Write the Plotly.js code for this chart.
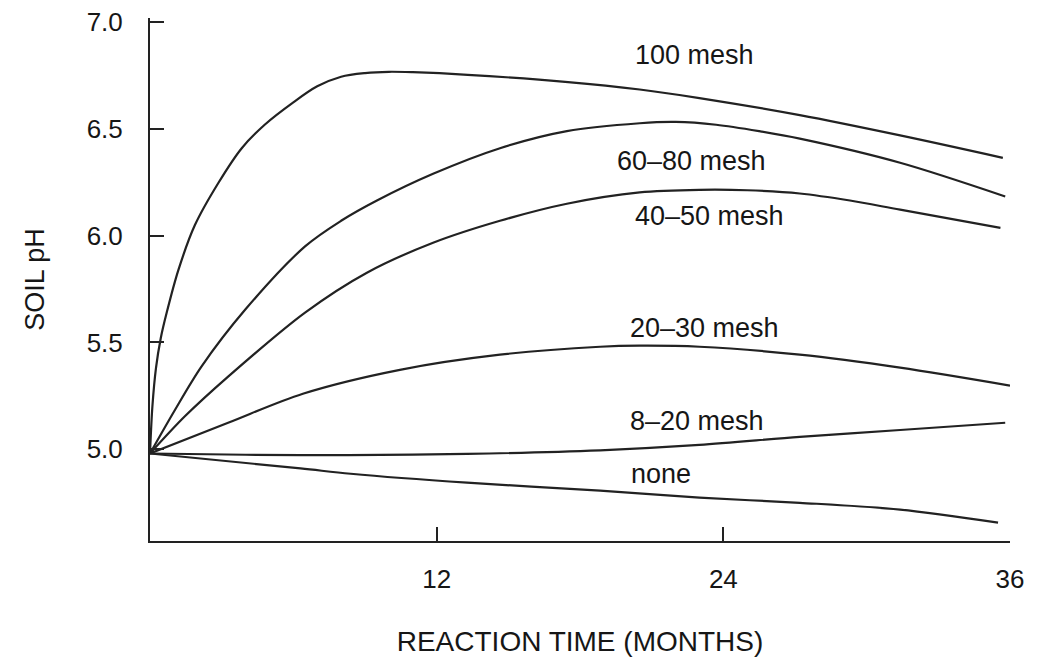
<!DOCTYPE html>
<html>
<head>
<meta charset="utf-8">
<script src="https://cdn.plot.ly/plotly-3.0.1.min.js"></script>
<style>html,body{margin:0;padding:0;background:#fff;}#chart{width:1040px;height:662px;}</style>
</head>
<body>
<div id="chart"></div>
<script>
// Series: reaction time (months) and soil pH
const mesh100_x = [0, 0.1, 0.25, 0.45, 0.7, 1.19, 1.88, 2.86, 3.84, 4.8, 6.0, 7.0, 8.0, 9.0, 10.0, 11.0, 13.3, 17.5, 20.5, 23.0, 27.2, 31.4, 35.7];
const mesh100_y = [4.98, 5.2, 5.38, 5.52, 5.64, 5.84, 6.05, 6.247, 6.41, 6.52, 6.625, 6.70, 6.745, 6.762, 6.768, 6.766, 6.754, 6.72, 6.685, 6.645, 6.565, 6.47, 6.365];

const mesh6080_x = [0, 1.05, 2.16, 3.98, 6.49, 8.0, 9.5, 11.85, 14.65, 17.45, 20.5, 22.0, 23.7, 25.5, 27.2, 31.4, 35.8];
const mesh6080_y = [4.98, 5.185, 5.388, 5.653, 5.95, 6.07, 6.165, 6.29, 6.41, 6.49, 6.527, 6.533, 6.52, 6.49, 6.455, 6.342, 6.184];

const mesh4050_x = [0, 1.46, 3.27, 6.49, 9.08, 11.85, 14.65, 17.45, 20.5, 23.0, 25.0, 27.2, 29.3, 31.4, 35.6];
const mesh4050_y = [4.98, 5.154, 5.34, 5.64, 5.827, 5.967, 6.07, 6.15, 6.203, 6.215, 6.213, 6.198, 6.165, 6.122, 6.037];

const mesh2030_x = [0, 3.27, 6.4, 10.46, 14.65, 18.84, 20.5, 23.0, 27.2, 31.4, 36.0];
const mesh2030_y = [4.98, 5.124, 5.26, 5.372, 5.443, 5.48, 5.485, 5.48, 5.443, 5.382, 5.298];

const mesh820_x = [0, 4.0, 8.3, 13.27, 18.84, 23.0, 27.2, 31.4, 35.8];
const mesh820_y = [4.98, 4.974, 4.972, 4.978, 4.995, 5.02, 5.058, 5.09, 5.124];

const none_x = [0, 6.3, 8.4, 13.27, 18.84, 23.0, 27.2, 31.4, 35.5];
const none_y = [4.98, 4.91, 4.885, 4.843, 4.806, 4.773, 4.749, 4.717, 4.656];

const seriesNames = ["100 mesh", "60–80 mesh", "40–50 mesh", "20–30 mesh", "8–20 mesh", "none"];
const labelX = [20.2, 19.46, 20.2, 20.0, 20.0, 20.05];
const labelY = [6.848, 6.351, 6.094, 5.569, 5.133, 4.885];

const xTickVals = [12, 24, 36];
const xTickText = ["12", "24", "36"];
const yTickVals = [5.0, 5.5, 6.0, 6.5, 7.0];
const yTickText = ["5.0", "5.5", "6.0", "6.5", "7.0"];

const FONT = "Liberation Sans, Arial, Helvetica, sans-serif";
const INK = "#161616";

const xs = [mesh100_x, mesh6080_x, mesh4050_x, mesh2030_x, mesh820_x, none_x];
const ys = [mesh100_y, mesh6080_y, mesh4050_y, mesh2030_y, mesh820_y, none_y];

const traces = xs.map((x, i) => ({
  type: "scatter",
  mode: "lines",
  name: seriesNames[i],
  x: x,
  y: ys[i],
  line: {color: "#222", width: 2.2, shape: "spline", smoothing: 0.9},
  hoverinfo: "x+y+name"
}));

const annotations = seriesNames.map((n, i) => ({
  x: labelX[i], y: labelY[i], xref: "x", yref: "y",
  text: n, showarrow: false, xanchor: "left", yanchor: "middle",
  font: {family: FONT, size: 27, color: INK}
}));

const layout = {
  width: 1040, height: 662,
  margin: {l: 150, r: 30, t: 18, b: 121},
  paper_bgcolor: "#fff", plot_bgcolor: "#fff",
  showlegend: false,
  font: {family: FONT, color: INK},
  xaxis: {
    range: [0, 36], tickmode: "array", tickvals: xTickVals, ticktext: xTickText,
    showgrid: false, zeroline: false,
    showline: true, linecolor: "#222", linewidth: 2,
    ticks: "inside", ticklen: 14, tickwidth: 2, tickcolor: "#222",
    ticklabelstandoff: 14,
    tickfont: {family: FONT, size: 26, color: INK},
    title: {text: "REACTION TIME (MONTHS)", standoff: 38, font: {family: FONT, size: 28, color: INK}}
  },
  yaxis: {
    range: [4.57, 7.02], tickmode: "array", tickvals: yTickVals, ticktext: yTickText,
    showgrid: false, zeroline: false,
    showline: true, linecolor: "#222", linewidth: 2,
    ticks: "inside", ticklen: 14, tickwidth: 2, tickcolor: "#222",
    ticklabelstandoff: 20,
    tickfont: {family: FONT, size: 26, color: INK},
    title: {text: "SOIL pH", standoff: 34, font: {family: FONT, size: 27, color: INK}}
  },
  annotations: annotations
};

Plotly.newPlot("chart", traces, layout, {displayModeBar: false, staticPlot: true});
</script>
</body>
</html>
